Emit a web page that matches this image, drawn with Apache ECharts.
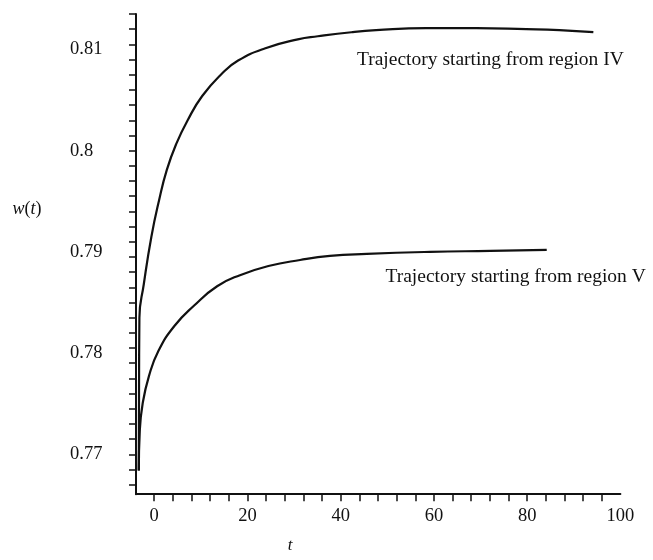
<!DOCTYPE html>
<html>
<head>
<meta charset="utf-8">
<script src="https://cdn.jsdelivr.net/npm/echarts@6/dist/echarts.min.js"></script>
<style>
html,body{margin:0;padding:0;background:#fff;}
#chart{width:653px;height:560px;}
</style>
</head>
<body>
<div id="chart"></div>
<script>
// Data
const tUpper = [-3.3, -3.25, -3.17, -2.23, -0.6, 1.05, 2.71, 4.76, 7.18, 10.3, 14.5, 18.0, 23.7, 30.8, 35.1, 42.3, 47.6, 58.3, 69.1, 79.8, 86.9, 94.2];
const wUpper = [0.7684, 0.7760, 0.7835, 0.7868, 0.7915, 0.7951, 0.7981, 0.8007, 0.8030, 0.8054, 0.8076, 0.8089, 0.8101, 0.8110, 0.8113, 0.8117, 0.8119, 0.8121, 0.8121, 0.8120, 0.8119, 0.8117];
const tLower = [-3.3, -3.09, -2.48, -1.14, 0.9, 4.38, 8.58, 13.5, 18.4, 24.5, 31.3, 37.7, 45.6, 59.2, 72.1, 84.2];
const wLower = [0.7684, 0.7723, 0.7750, 0.7777, 0.7802, 0.7827, 0.7847, 0.7866, 0.7877, 0.7886, 0.7892, 0.7896, 0.7898, 0.7900, 0.7901, 0.7902];

const xLabels = [0, 20, 40, 60, 80, 100];
const xTicks = [0, 4, 8, 12, 16, 20, 24, 28, 32, 36, 40, 44, 48, 52, 56, 60, 64, 68, 72, 76, 80, 84, 88, 92, 96];
const yLabels = [0.77, 0.78, 0.79, 0.8, 0.81];
const yTicks = [0.767, 0.7685, 0.77, 0.7715, 0.773, 0.7745, 0.776, 0.7775, 0.779, 0.7805, 0.782, 0.7835, 0.785, 0.7865, 0.788, 0.7895, 0.791, 0.7925, 0.794, 0.7955, 0.797, 0.7985, 0.8, 0.8015, 0.803, 0.8045, 0.806, 0.8075, 0.809, 0.8105, 0.812, 0.8135];

const labelUpper = 'Trajectory starting from region IV';
const labelLower = 'Trajectory starting from region V';
const xName = 't';

const INK = '#111';
const SERIF = '"Liberation Serif", "DejaVu Serif", serif';

function pairs(xs, ys) { return xs.map((x, i) => [x, ys[i]]); }

const chart = echarts.init(document.getElementById('chart'), null, {renderer: 'canvas'});
const option = {
  animation: false,
  backgroundColor: '#fff',
  grid: {left: 136, top: 14, width: 484.4, height: 480.2, containLabel: false, outerBoundsMode: 'none'},
  xAxis: {
    type: 'value', min: -3.9, max: 100,
    axisLine: {show: true, onZero: false, lineStyle: {color: INK, width: 2}},
    axisTick: {show: true, customValues: xTicks, length: 7, inside: false, lineStyle: {color: INK, width: 1.5}},
    axisLabel: {show: true, customValues: xLabels, margin: 12, color: INK, fontFamily: SERIF, fontSize: 18.5},
    splitLine: {show: false}
  },
  yAxis: {
    type: 'value', min: 0.76606, max: 0.8135,
    axisLine: {show: true, onZero: false, lineStyle: {color: INK, width: 2}},
    axisTick: {show: true, customValues: yTicks, length: 7, inside: false, lineStyle: {color: INK, width: 1.5}},
    axisLabel: {show: true, customValues: yLabels, margin: 66, align: 'left', color: INK, fontFamily: SERIF, fontSize: 18.5,
      formatter: v => String(+v.toFixed(4))},
    splitLine: {show: false}
  },
  series: [
    {type: 'line', data: pairs(tUpper, wUpper), showSymbol: false, smooth: 0.5,
      lineStyle: {color: INK, width: 2.2}, itemStyle: {color: INK}},
    {type: 'line', data: pairs(tLower, wLower), showSymbol: false, smooth: 0.5,
      lineStyle: {color: INK, width: 2.2}, itemStyle: {color: INK}}
  ],
  graphic: [
    {type: 'text', x: 357, y: 60, style: {text: labelUpper, fill: INK, fontFamily: SERIF, fontSize: 19.5, align: 'left', verticalAlign: 'middle', textAlign: 'left', textVerticalAlign: 'middle'}},
    {type: 'text', x: 385.5, y: 276.5, style: {text: labelLower, fill: INK, fontFamily: SERIF, fontSize: 19.5, align: 'left', verticalAlign: 'middle', textAlign: 'left', textVerticalAlign: 'middle'}},
    {type: 'text', x: 27, y: 209, style: {text: '{i|w}({i|t})', fill: INK, fontFamily: SERIF, fontSize: 18, align: 'center', verticalAlign: 'middle', textAlign: 'center', textVerticalAlign: 'middle',
      rich: {i: {fontStyle: 'italic', fontFamily: SERIF, fontSize: 18, fill: INK, color: INK}}}},
    {type: 'text', x: 290, y: 546, style: {text: xName, fill: INK, fontFamily: SERIF, fontStyle: 'italic', fontSize: 17, align: 'center', verticalAlign: 'middle', textAlign: 'center', textVerticalAlign: 'middle'}}
  ]
};
chart.setOption(option);
</script>
</body>
</html>
